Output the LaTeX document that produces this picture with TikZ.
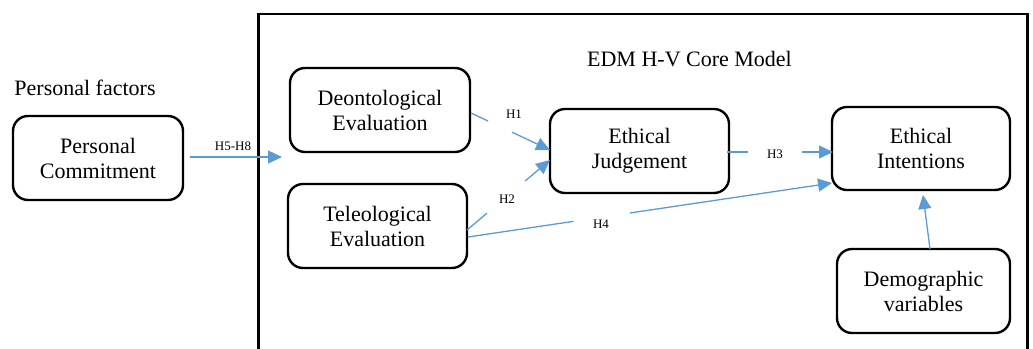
\documentclass[tikz,border=0pt]{standalone}
\usepackage{fontspec}
\setmainfont{Liberation Serif}
\usetikzlibrary{arrows.meta,calc}
\definecolor{linkblue}{RGB}{91,155,213}
\tikzset{
  box/.style={draw=black, line width=2.4pt, rounded corners=15pt, align=center,
    font=\fontsize{22}{25}\selectfont, inner sep=0pt},
  link/.style={draw=linkblue, line width=1.3pt},
  linkarrow/.style={link, -{Triangle[length=14pt,width=13pt]}},
  hlabel/.style={font=\fontsize{13}{15}\selectfont, inner sep=0pt},
  heading/.style={font=\fontsize{22}{25}\selectfont, inner sep=0pt}
}
\begin{document}
\begin{tikzpicture}[x=1pt,y=-1pt]
\useasboundingbox (0,0) rectangle (1033,348);
% outer frame (bottom edge outside the picture)
\draw[line width=2.5pt] (258.5,350) -- (258.5,14) -- (1027.5,14) -- (1027.5,350);
\node[heading] (pf) at (85,88) {Personal factors};
\node[heading] (core) at (689.5,59) {EDM H-V Core Model};
% boxes
\node[box, minimum width=170pt, minimum height=84pt] (pc) at (98,158) {Personal\\Commitment};
\node[box, minimum width=180pt, minimum height=84pt] (de) at (380,110) {Deontological\\Evaluation};
\node[box, minimum width=179pt, minimum height=84pt] (te) at (377.5,226) {Teleological\\Evaluation};
\node[box, minimum width=179pt, minimum height=84pt] (ej) at (639.5,151) {Ethical\\Judgement};
\node[box, minimum width=178pt, minimum height=83pt] (ei) at (921,148.5) {Ethical\\Intentions};
\node[box, minimum width=173pt, minimum height=84pt] (dv) at (923.5,291) {Demographic\\variables};
% anchor coordinates
\coordinate (pcA) at (190,157);
\coordinate (coreIn) at (282,157);
\coordinate (deA) at (471,113);
\coordinate (ejA) at (550,150);
\coordinate (teA) at (467,230);
\coordinate (ejB) at (550,160);
\coordinate (ejC) at (727,152);
\coordinate (eiA) at (833,152);
\coordinate (teB) at (468,237);
\coordinate (eiB) at (832,183);
\coordinate (dvA) at (930,249);
\coordinate (eiC) at (923,195);
% H5-H8
\draw[linkarrow] (pcA) -- (coreIn);
\node[hlabel] (h58) at (233,146) {H5-H8};
% H1
\draw[link] (deA) -- ($(deA)!0.215!(ejA)$);
\draw[linkarrow] ($(deA)!0.52!(ejA)$) -- (ejA);
\node[hlabel] (h1) at (514,114) {H1};
% H2
\draw[link] (teA) -- ($(teA)!0.24!(ejB)$);
\draw[linkarrow] ($(teA)!0.70!(ejB)$) -- (ejB);
\node[hlabel] (h2) at (507,199) {H2};
% H3
\draw[link] (ejC) -- ($(ejC)!0.20!(eiA)$);
\draw[linkarrow] ($(ejC)!0.71!(eiA)$) -- (eiA);
\node[hlabel] (h3) at (775,154) {H3};
% H4
\draw[link] (teB) -- ($(teB)!0.29!(eiB)$);
\draw[linkarrow] ($(teB)!0.445!(eiB)$) -- (eiB);
\node[hlabel] (h4) at (601,224) {H4};
% demographic
\draw[linkarrow] (dvA) -- (eiC);
\end{tikzpicture}
\end{document}
